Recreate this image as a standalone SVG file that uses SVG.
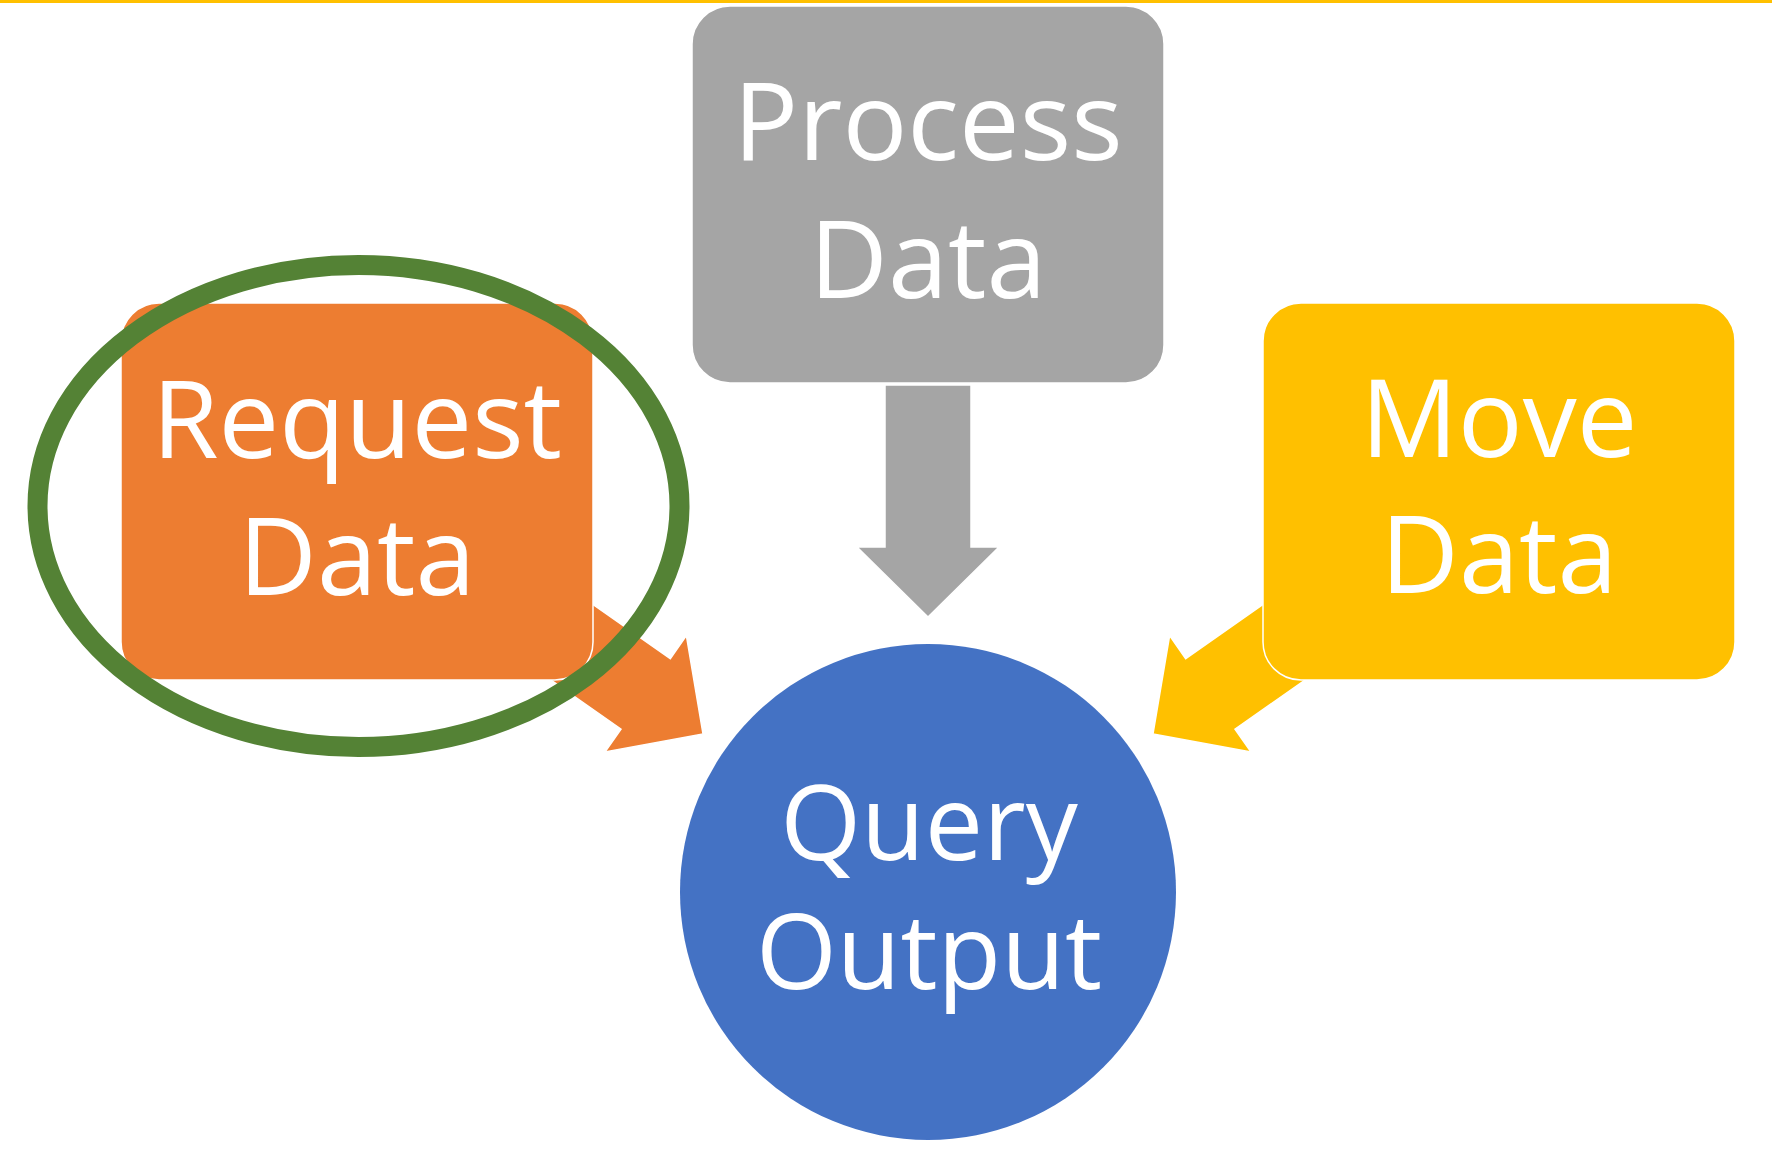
<svg xmlns="http://www.w3.org/2000/svg" width="1772" height="1150" viewBox="0 0 1772 1150">
  <style>
    .lbl { font-family: "Open Sans", "Noto Sans", "Liberation Sans", sans-serif; fill: #FFFFFF; text-anchor: middle; }
    .box { font-size: 108px; }
    .circ { font-size: 104px; }
    .shape { stroke: #FFFFFF; stroke-width: 1.5; }
  </style>
  <defs>
    <path id="blockArrow" d="M0,-43 H162 V-71 L232,0 L162,71 V43 H0 Z"/>
  </defs>
  <rect x="0" y="0" width="1772" height="1150" fill="#FFFFFF"/>
  <rect x="0" y="0" width="1772" height="3" fill="#FFC000"/>

  <g id="connectors">
    <use href="#blockArrow" class="shape" fill="#A5A5A5" transform="translate(928,617) rotate(90) translate(-232,0)"/>
    <use href="#blockArrow" class="shape" fill="#ED7D31" transform="translate(703,734) rotate(35) translate(-232,0)"/>
    <use href="#blockArrow" class="shape" fill="#FFC000" transform="translate(1153,734) rotate(145) translate(-232,0)"/>
  </g>

  <g id="process-data">
    <rect class="shape" x="692" y="6" width="472" height="377" rx="38" ry="38" fill="#A5A5A5"/>
    <text class="lbl box" x="928" y="160">Process</text>
    <text class="lbl box" x="928" y="298">Data</text>
  </g>

  <g id="request-data">
    <rect class="shape" x="121" y="303" width="472" height="377" rx="38" ry="38" fill="#ED7D31"/>
    <text class="lbl box" x="357" y="458">Request</text>
    <text class="lbl box" x="357" y="595">Data</text>
  </g>

  <g id="move-data">
    <rect class="shape" x="1263" y="303" width="472" height="377" rx="38" ry="38" fill="#FFC000"/>
    <text class="lbl box" x="1499" y="457">Move</text>
    <text class="lbl box" x="1499" y="593">Data</text>
  </g>

  <g id="query-output">
    <circle cx="928" cy="892" r="248" fill="#4472C4"/>
    <text class="lbl circ" x="929" y="860">Query</text>
    <text class="lbl circ" x="929" y="989">Output</text>
  </g>

  <g id="highlight">
    <ellipse cx="358.5" cy="506" rx="321" ry="241" fill="none" stroke="#548235" stroke-width="20"/>
  </g>
</svg>
